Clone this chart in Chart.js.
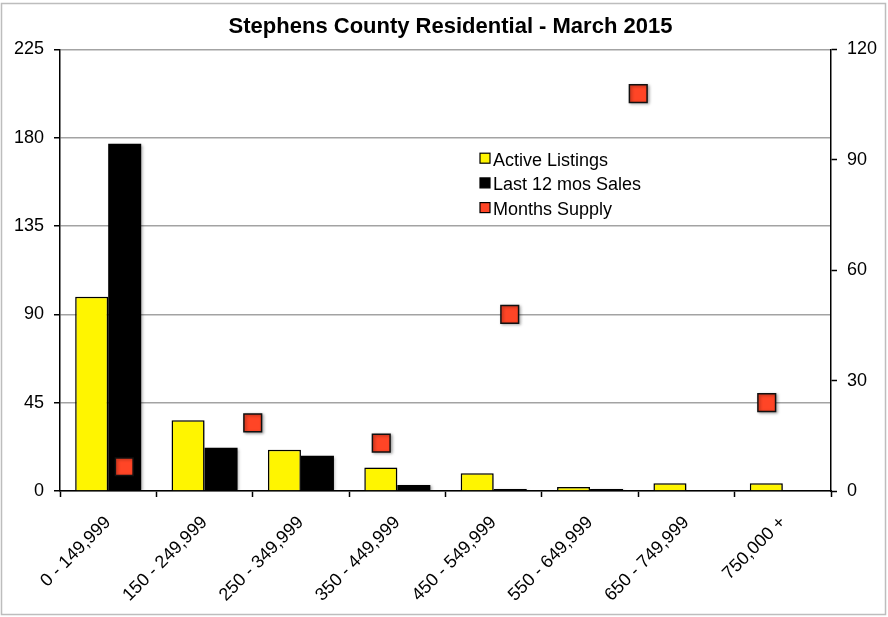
<!DOCTYPE html>
<html>
<head>
<meta charset="utf-8">
<script src="https://cdn.jsdelivr.net/npm/chart.js@4/dist/chart.umd.min.js"></script>
<style>
  html, body { margin: 0; padding: 0; background: #fff; }
  #wrap { width: 888px; height: 617px; position: relative; }
</style>
</head>
<body>
<div id="wrap"><canvas id="c" width="888" height="617"></canvas></div>
<script>
const chartTitle = 'Stephens County Residential - March 2015';
const categories = ['0 - 149,999', '150 - 249,999', '250 - 349,999', '350 - 449,999',
                    '450 - 549,999', '550 - 649,999', '650 - 749,999', '750,000 +'];
const activeListings = [99, 36, 21, 12, 9, 2, 4, 4];
const lastSales = [177, 22, 18, 3, 1, 1, 0, 0];
const supplyCategories = ['0 - 149,999', '150 - 249,999', '250 - 349,999', '350 - 449,999',
                          '450 - 549,999', '550 - 649,999'];
const monthsSupply = [6.6, 18.5, 13, 48, 108, 24];
const leftTicks = [0, 45, 90, 135, 180, 225];
const rightTicks = [0, 30, 60, 90, 120];

const FONT = '"Liberation Sans", Arial, Helvetica, sans-serif';
const YELLOW = '#FFF500';
const RED = '#FF4526';

// Chart.js 4.5 splits bar groups by every x-axis id used in the chart
// (here the hidden secondary x axis of the supply markers); the bars share one axis.
if (Chart.BarController && Chart.BarController.prototype._getAxisCount) {
  Chart.BarController.prototype._getAxisCount = function () { return 1; };
}

const framePlugin = {
  id: 'frame',
  beforeDraw(chart) {
    const ctx = chart.ctx;
    ctx.save();
    ctx.fillStyle = '#fff';
    ctx.fillRect(0, 0, chart.width, chart.height);
    ctx.restore();
  },
  afterDraw(chart) {
    const ctx = chart.ctx;
    ctx.save();
    ctx.strokeStyle = '#bdbdbd';
    ctx.lineWidth = 1.5;
    ctx.strokeRect(1.5, 3.5, chart.width - 4, chart.height - 6);
    ctx.restore();
  }
};

const shadowPlugin = {
  id: 'shadow',
  beforeDatasetDraw(chart) {
    const ctx = chart.ctx;
    ctx.save();
    ctx.shadowColor = 'rgba(0,0,0,0.35)';
    ctx.shadowBlur = 3;
    ctx.shadowOffsetX = 1.5;
    ctx.shadowOffsetY = 1;
  },
  afterDatasetDraw(chart) {
    chart.ctx.restore();
  }
};

const legendPlugin = {
  id: 'innerLegend',
  afterDraw(chart) {
    const ctx = chart.ctx;
    const x0 = 480, y0 = 165.7, step = 24.7, box = 10;
    ctx.save();
    ctx.font = '18px ' + FONT;
    ctx.textBaseline = 'alphabetic';
    ctx.textAlign = 'left';
    chart.data.datasets.forEach((ds, i) => {
      const base = y0 + i * step;
      ctx.fillStyle = ds.backgroundColor;
      ctx.fillRect(x0, base - 12.5, box, box);
      ctx.strokeStyle = '#000';
      ctx.lineWidth = 1.2;
      ctx.strokeRect(x0, base - 12.5, box, box);
      ctx.fillStyle = '#000';
      ctx.fillText(ds.label, x0 + 13, base);
    });
    ctx.restore();
  }
};

new Chart(document.getElementById('c'), {
  type: 'bar',
  data: {
    labels: categories,
    datasets: [
      {
        type: 'bar',
        label: 'Active Listings',
        data: activeListings,
        backgroundColor: YELLOW,
        borderColor: '#000',
        borderWidth: 1.5,
        borderSkipped: 'bottom',
        yAxisID: 'y',
        xAxisID: 'x',
        categoryPercentage: 0.685,
        barPercentage: 1.0,
        order: 2
      },
      {
        type: 'bar',
        label: 'Last 12 mos Sales',
        data: lastSales,
        backgroundColor: '#000',
        borderColor: '#000',
        borderWidth: 0,
        yAxisID: 'y',
        xAxisID: 'x',
        categoryPercentage: 0.685,
        barPercentage: 1.0,
        order: 2
      },
      {
        type: 'line',
        label: 'Months Supply',
        data: monthsSupply,
        showLine: false,
        backgroundColor: RED,
        borderColor: '#000',
        pointStyle: 'rect',
        pointRadius: 12.5,
        pointHoverRadius: 12.5,
        pointBorderWidth: 1.5,
        pointBackgroundColor: RED,
        pointBorderColor: '#111',
        yAxisID: 'y2',
        xAxisID: 'x2',
        order: 1
      }
    ]
  },
  options: {
    responsive: false,
    animation: false,
    events: [],
    layout: { padding: { left: 13, right: 0, top: 0, bottom: 0 } },
    plugins: {
      legend: { display: false },
      tooltip: { enabled: false },
      title: {
        display: true,
        text: chartTitle,
        color: '#000',
        font: { family: FONT, size: 22, weight: 'bold', lineHeight: 1.2 },
        padding: { top: 14, bottom: 9.1 }
      }
    },
    scales: {
      x: {
        type: 'category',
        position: 'bottom',
        offset: true,
        grid: {
          offset: true,
          drawOnChartArea: false,
          drawTicks: true,
          tickLength: 6,
          tickColor: '#000',
          tickWidth: 1.5
        },
        border: { display: true, color: '#000', width: 1.5 },
        ticks: {
          color: '#000',
          font: { family: FONT, size: 18 },
          maxRotation: 45,
          minRotation: 45,
          autoSkip: false,
          padding: 15
        },
        afterFit(s) { s.height = 126; }
      },
      x2: {
        type: 'category',
        labels: supplyCategories,
        position: 'bottom',
        offset: true,
        display: false
      },
      y: {
        type: 'linear',
        position: 'left',
        min: 0,
        max: 225,
        afterBuildTicks(s) { s.ticks = leftTicks.map(v => ({ value: v })); },
        grid: {
          color: '#a3a3a3',
          lineWidth: 1.5,
          drawTicks: true,
          tickLength: 6,
          tickColor: '#000',
          tickWidth: 1.5
        },
        border: { display: true, color: '#000', width: 1.5 },
        ticks: {
          color: '#000',
          font: { family: FONT, size: 18 },
          padding: 10
        },
        afterFit(s) { s.width = 47; }
      },
      y2: {
        type: 'linear',
        position: 'right',
        min: 0,
        max: 120,
        afterBuildTicks(s) { s.ticks = rightTicks.map(v => ({ value: v })); },
        grid: {
          drawOnChartArea: false,
          drawTicks: true,
          tickLength: 6,
          tickColor: '#000',
          tickWidth: 1.5
        },
        border: { display: true, color: '#000', width: 1.5 },
        ticks: {
          color: '#000',
          font: { family: FONT, size: 18 },
          padding: 10
        },
        afterFit(s) { s.width = 57; }
      }
    }
  },
  plugins: [framePlugin, shadowPlugin, legendPlugin]
});
</script>
</body>
</html>
